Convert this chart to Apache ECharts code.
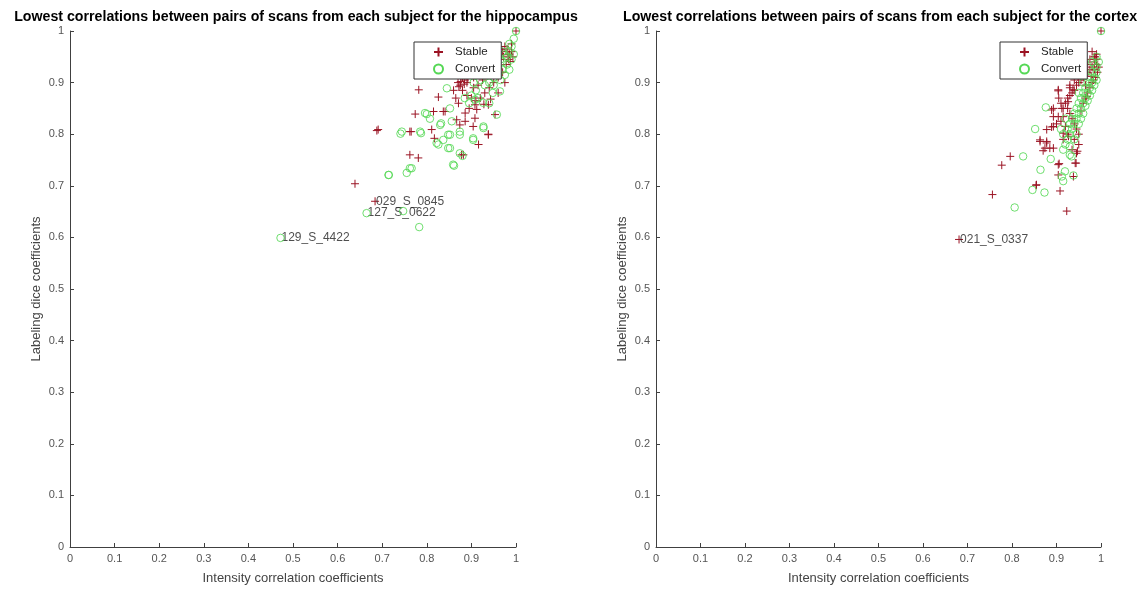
<!DOCTYPE html>
<html>
<head>
<meta charset="utf-8">
<script src="https://cdn.jsdelivr.net/npm/echarts@6/dist/echarts.min.js"></script>
<style>html,body{margin:0;padding:0;background:#fff;}#c{width:1145px;height:590px;}</style>
</head>
<body>
<div id="c"></div>
<script>
// ---------- data ----------
const titles = [
  'Lowest correlations between pairs of scans from each subject for the hippocampus',
  'Lowest correlations between pairs of scans from each subject for the cortex'
];
const xAxisName = 'Intensity correlation coefficients';
const yAxisName = 'Labeling dice coefficients';
const seriesNames = ['Stable', 'Convert'];

const hippoStable = [
  [0.639,0.704],[0.684,0.670],[0.688,0.807],[0.691,0.809],[0.762,0.805],[0.765,0.805],[0.774,0.839],[0.782,0.886],
  [0.762,0.760],[0.781,0.754],[0.811,0.809],[0.815,0.844],[0.817,0.792],[0.826,0.872],[0.837,0.844],[0.841,0.844],
  [0.882,0.760],[0.878,0.760],[0.916,0.780],[0.938,0.800],[0.938,0.799],[0.871,0.860],[0.886,0.841],[0.908,0.857],
  [0.938,0.857],[0.953,0.838],[0.867,0.828],[0.874,0.818],[0.886,0.825],[0.908,0.831],[0.904,0.815],[1.000,1.000],
  [0.870,0.900],[0.880,0.910],[0.875,0.895],[0.885,0.905],[0.890,0.900],[0.880,0.885],[0.895,0.915],[0.900,0.920],
  [0.905,0.910],[0.910,0.930],[0.915,0.920],[0.920,0.940],[0.925,0.930],[0.930,0.945],[0.935,0.950],[0.940,0.940],
  [0.945,0.955],[0.950,0.950],[0.955,0.960],[0.960,0.955],[0.965,0.965],[0.970,0.960],[0.975,0.970],[0.980,0.965],
  [0.985,0.955],[0.983,0.945],[0.978,0.935],[0.970,0.920],[0.960,0.910],[0.950,0.900],[0.940,0.890],[0.930,0.880],
  [0.920,0.870],[0.910,0.865],[0.900,0.870],[0.890,0.875],[0.905,0.890],[0.915,0.895],[0.925,0.905],[0.935,0.915],
  [0.945,0.925],[0.955,0.935],[0.965,0.945],[0.972,0.950],[0.860,0.885],[0.865,0.870],[0.895,0.850],[0.912,0.848],
  [0.928,0.858],[0.943,0.868],[0.960,0.880],[0.975,0.900],[0.990,0.960],[0.990,0.975],[0.993,0.950],[0.982,0.954],
  [0.987,0.941],[0.876,0.902],[0.884,0.897],[0.892,0.908],[0.872,0.892]
];
const hippoConvert = [
  [0.472,0.599],[0.665,0.647],[0.747,0.651],[0.783,0.620],[0.715,0.721],[0.714,0.721],[0.755,0.725],[0.762,0.734],
  [0.766,0.734],[0.741,0.801],[0.744,0.805],[0.787,0.802],[0.785,0.805],[0.800,0.839],[0.796,0.841],[0.807,0.830],
  [0.832,0.821],[0.830,0.818],[0.822,0.783],[0.826,0.780],[0.837,0.789],[0.848,0.799],[0.852,0.773],[0.848,0.773],
  [0.874,0.799],[0.852,0.799],[0.874,0.805],[0.904,0.792],[0.904,0.789],[0.927,0.815],[0.927,0.812],[0.861,0.739],
  [0.859,0.741],[0.845,0.889],[0.880,0.758],[0.874,0.763],[0.852,0.850],[0.856,0.825],[0.908,0.867],[0.926,0.861],
  [0.948,0.880],[0.964,0.883],[0.957,0.838],
  [0.920,0.905],[0.925,0.915],[0.930,0.920],[0.935,0.925],[0.940,0.915],[0.945,0.930],[0.950,0.925],[0.955,0.940],
  [0.960,0.930],[0.965,0.945],[0.970,0.940],[0.975,0.955],[0.980,0.950],[0.985,0.960],[0.950,0.910],[0.940,0.900],
  [0.930,0.895],[0.960,0.915],[0.970,0.925],[0.980,0.935],[0.990,0.945],[0.995,0.955],[0.990,0.970],[0.985,0.975],
  [0.995,0.985],[1.000,1.000],[0.910,0.885],[0.900,0.875],[0.915,0.870],[0.895,0.860],[0.905,0.900],[0.885,0.870],
  [0.950,0.895],[0.965,0.905],[0.975,0.915],[0.985,0.925],[0.960,0.950],[0.945,0.945],[0.935,0.940],[0.970,0.960],
  [0.940,0.860]
];
const cortexStable = [
  [0.681,0.596],[0.756,0.683],[0.777,0.740],[0.796,0.757],[0.854,0.701],[0.855,0.702],[0.863,0.786],[0.863,0.789],
  [0.878,0.783],[0.878,0.786],[0.874,0.773],[0.885,0.773],[0.893,0.773],[0.870,0.768],[0.889,0.814],[0.893,0.815],
  [0.878,0.809],[0.904,0.884],[0.904,0.886],[0.889,0.847],[0.893,0.850],[0.912,0.850],[0.915,0.850],[0.893,0.834],
  [0.904,0.834],[0.915,0.834],[0.906,0.743],[0.904,0.741],[0.904,0.721],[0.938,0.718],[0.944,0.744],[0.942,0.744],
  [0.947,0.767],[0.945,0.763],[0.908,0.690],[0.923,0.651],[0.927,0.796],[0.915,0.802],[1.000,1.000],
  [0.983,0.905],[0.987,0.950],[0.968,0.873],[0.937,0.886],[0.926,0.863],
  [0.920,0.860],[0.925,0.870],[0.930,0.875],[0.935,0.880],[0.930,0.890],[0.940,0.885],[0.945,0.895],[0.950,0.900],
  [0.955,0.905],[0.960,0.910],[0.965,0.915],[0.970,0.920],[0.975,0.925],[0.980,0.930],[0.985,0.940],[0.990,0.945],
  [0.985,0.950],[0.990,0.955],[0.980,0.960],[0.975,0.945],[0.970,0.935],[0.960,0.925],[0.950,0.915],[0.940,0.905],
  [0.930,0.895],[0.925,0.850],[0.930,0.840],[0.935,0.830],[0.940,0.820],[0.945,0.810],[0.950,0.800],[0.955,0.845],
  [0.960,0.860],[0.965,0.870],[0.970,0.880],[0.975,0.890],[0.980,0.900],[0.988,0.910],[0.992,0.920],[0.995,0.930],
  [0.910,0.825],[0.920,0.815],[0.925,0.800],[0.915,0.790],[0.940,0.790],[0.935,0.770],[0.950,0.780],[0.900,0.820],
  [0.910,0.860],[0.905,0.870],[0.990,0.935],[0.985,0.925],[0.978,0.912],[0.965,0.895]
];
const cortexConvert = [
  [0.806,0.658],[0.825,0.757],[0.852,0.810],[0.876,0.852],[0.864,0.731],[0.887,0.752],[0.846,0.692],[0.873,0.687],
  [0.919,0.728],[0.912,0.718],[0.915,0.709],[0.934,0.757],[0.930,0.776],[0.938,0.720],
  [0.920,0.780],[0.925,0.790],[0.930,0.800],[0.935,0.810],[0.940,0.820],[0.945,0.830],[0.950,0.840],[0.955,0.850],
  [0.960,0.860],[0.965,0.870],[0.970,0.880],[0.975,0.890],[0.980,0.900],[0.985,0.910],[0.990,0.920],[0.990,0.930],
  [0.985,0.935],[0.980,0.920],[0.975,0.910],[0.970,0.900],[0.965,0.890],[0.960,0.880],[0.955,0.870],[0.950,0.860],
  [0.945,0.850],[0.940,0.840],[0.935,0.830],[0.930,0.820],[0.925,0.810],[0.950,0.820],[0.955,0.830],[0.960,0.840],
  [0.945,0.800],[0.940,0.790],[0.965,0.855],[0.970,0.865],[0.975,0.875],[0.980,0.885],[0.985,0.895],[0.990,0.905],
  [0.995,0.940],[0.990,0.950],[0.980,0.940],[0.915,0.800],[0.910,0.810],[0.920,0.830],[0.915,0.770],[0.930,0.760],
  [1.000,1.000],[0.960,0.900],[0.950,0.880]
];
const hippoLabels = [
  ['029_S_0845', 0.684, 0.670],
  ['127_S_0622', 0.665, 0.647],
  ['129_S_4422', 0.472, 0.599]
];
const cortexLabels = [
  ['021_S_0337', 0.681, 0.596]
];
const tickValues = [0,0.1,0.2,0.3,0.4,0.5,0.6,0.7,0.8,0.9,1];

// ---------- styles ----------
const FONT = 'Liberation Sans, Arial, Helvetica, sans-serif';
const STABLE_COLOR = '#9b1424';
const CONVERT_COLOR = '#55d855';
const PLUS = 'path://M0,5L10,5M5,0L5,10';

const grids = [
  {left: 70, right: 629, top: 31, bottom: 42},
  {left: 656, right: 44, top: 31, bottom: 42}
];
function fmt(v){ const r = Math.round(v*10)/10; return tickValues.indexOf(r) >= 0 ? String(r) : ''; }
function xAxis(i){
  return {
    type:'value', gridIndex:i, min:0, max:1, interval:0.1,
    name: xAxisName, nameLocation:'middle', nameGap:25,
    nameTextStyle:{fontFamily:FONT, fontSize:13, color:'#444'},
    axisLine:{lineStyle:{color:'#404040', width:1}},
    axisTick:{inside:true, length:4, lineStyle:{color:'#404040'}},
    axisLabel:{fontFamily:FONT, fontSize:11, color:'#555', margin:6, formatter: fmt},
    splitLine:{show:false}
  };
}
function yAxis(i){
  return {
    type:'value', gridIndex:i, min:0, max:1, interval:0.1,
    name: yAxisName, nameLocation:'middle', nameGap:27, nameRotate:90,
    nameTextStyle:{fontFamily:FONT, fontSize:13, color:'#444'},
    axisLine:{lineStyle:{color:'#404040', width:1}},
    axisTick:{inside:true, length:4, lineStyle:{color:'#404040'}},
    axisLabel:{fontFamily:FONT, fontSize:11, color:'#555', margin:6, formatter: fmt},
    splitLine:{show:false}
  };
}
function stableSeries(i, data){
  return {name: seriesNames[0], type:'scatter', xAxisIndex:i, yAxisIndex:i, data:data,
    symbol: PLUS, symbolSize: 8, silent:true, z:2,
    itemStyle:{color:STABLE_COLOR, borderColor:STABLE_COLOR, borderWidth:1, opacity:1}};
}
function convertSeries(i, data){
  return {name: seriesNames[1], type:'scatter', xAxisIndex:i, yAxisIndex:i, data:data,
    symbol:'circle', symbolSize: 7.5, silent:true, z:3,
    itemStyle:{color:'rgba(0,0,0,0)', borderColor:CONVERT_COLOR, borderWidth:0.85, opacity:1}};
}
function labelSeries(i, labels){
  return {name:'labels'+i, type:'scatter', xAxisIndex:i, yAxisIndex:i, silent:true,
    data: labels.map(l => ({name:l[0], value:[l[1], l[2]]})),
    symbolSize: 0.01,
    label:{show:true, position:'right', distance:1, formatter: p => p.name,
      fontFamily:FONT, fontSize:12, color:'#222'}};
}
function legend(left){
  return {
    left: left, top: 42, orient:'vertical',
    data: seriesNames,
    backgroundColor:'#fff', borderColor:'#333', borderWidth:1,
    padding:[4,6,4,19], itemWidth:9, itemHeight:9, itemGap:5,
    textStyle:{fontFamily:FONT, fontSize:11.5, color:'#222', padding:[0,0,0,7]},
    selectedMode:false
  };
}

const chart = echarts.init(document.getElementById('c'), null, {renderer:'canvas'});
chart.setOption({
  animation:false,
  backgroundColor:'#fff',
  title: [
    {text: titles[0], left: 296, textAlign:'center', top: 10, padding:0,
     textStyle:{fontFamily:FONT, fontSize:14.2, fontWeight:'bold', color:'#000'}},
    {text: titles[1], left: 880, textAlign:'center', top: 10, padding:0,
     textStyle:{fontFamily:FONT, fontSize:14.2, fontWeight:'bold', color:'#000'}}
  ],
  grid: grids,
  xAxis: [xAxis(0), xAxis(1)],
  yAxis: [yAxis(0), yAxis(1)],
  legend: [legend(414), legend(1000)],
  series: [
    stableSeries(0, hippoStable), convertSeries(0, hippoConvert), labelSeries(0, hippoLabels),
    stableSeries(1, cortexStable), convertSeries(1, cortexConvert), labelSeries(1, cortexLabels)
  ]
});
</script>
</body>
</html>
